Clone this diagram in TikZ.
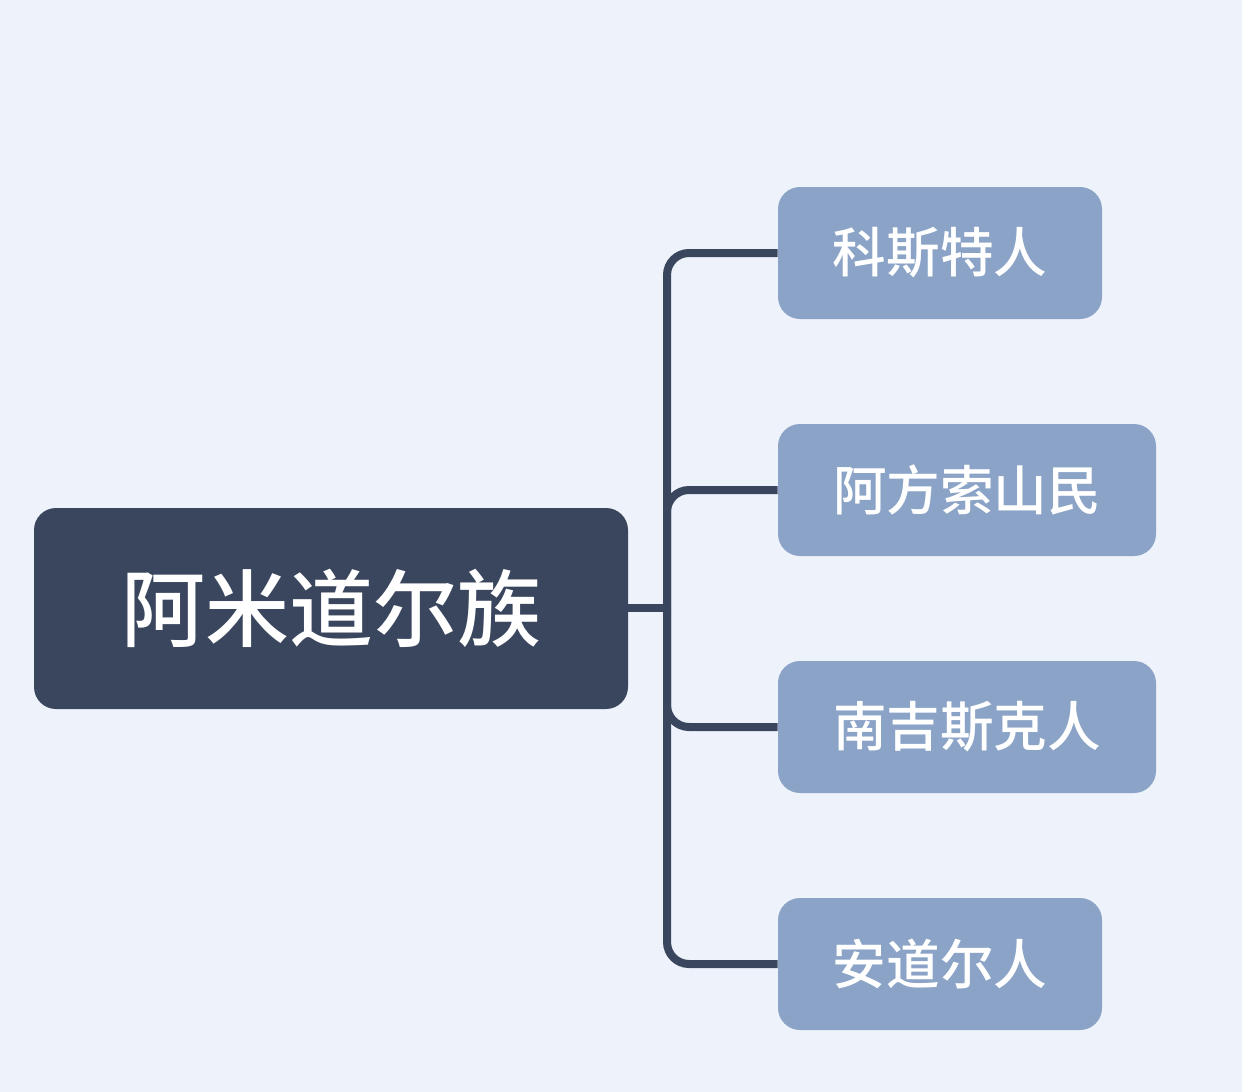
\documentclass[tikz,border=0pt]{standalone}
\usepackage{fontspec}
\newfontfamily\cjk{Noto Sans CJK SC Medium}
\definecolor{bgc}{HTML}{EEF3FB}
\definecolor{rootc}{HTML}{3A465D}
\definecolor{childc}{HTML}{8AA3C6}
\begin{document}
\begin{tikzpicture}[x=0.5pt,y=-0.5pt,
  rootbox/.style={fill=rootc, rounded corners=11pt, inner sep=0pt, minimum width=297pt, minimum height=100.5pt, text=white, font=\cjk\fontsize{42pt}{48pt}\selectfont},
  childbox/.style={fill=childc, rounded corners=11pt, inner sep=0pt, minimum height=66pt, text=white, font=\cjk\fontsize{26.8pt}{32pt}\selectfont},
  conn/.style={draw=rootc, line width=4pt, rounded corners=11pt}]
\fill[bgc] (0,0) rectangle (1242,1092);
\useasboundingbox (0,0) rectangle (1242,1092);
\node[rootbox] (root) at (331,608.5) {阿米道尔族};
\node[childbox, minimum width=162pt] (c1) at (940,253) {科斯特人};
\node[childbox, minimum width=189pt] (c2) at (967,490) {阿方索山民};
\node[childbox, minimum width=189pt] (c3) at (967,727) {南吉斯克人};
\node[childbox, minimum width=162pt] (c4) at (940,964) {安道尔人};
\coordinate (j) at (667,608);
\draw[conn] (root.east |- j) -- (j);
\draw[conn] (j) |- (c1.west);
\draw[conn] (j) |- (c2.west);
\draw[conn] (j) |- (c3.west);
\draw[conn] (j) |- (c4.west);
\end{tikzpicture}
\end{document}
